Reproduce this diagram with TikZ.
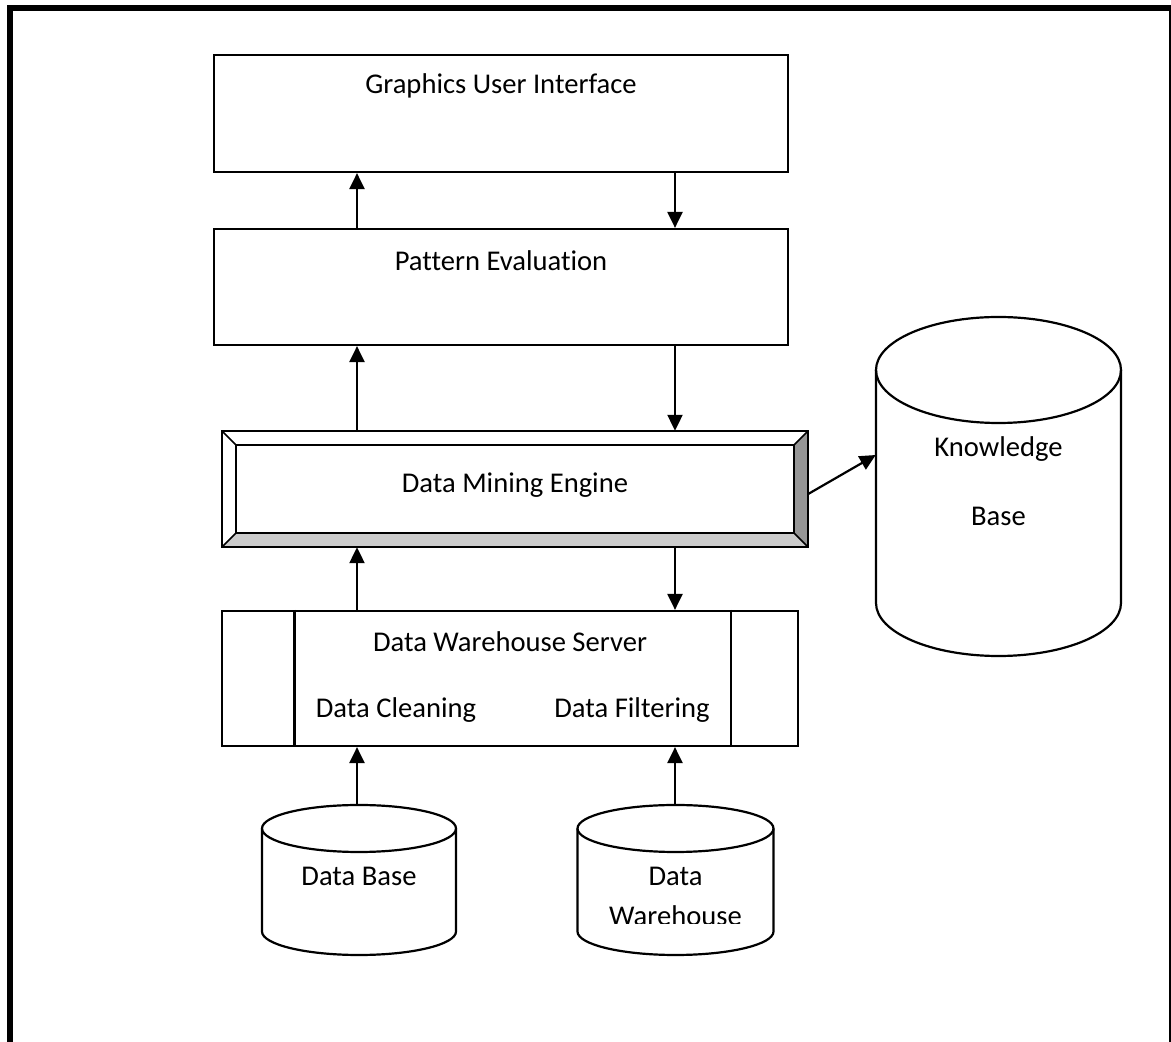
\documentclass[tikz,border=0pt]{standalone}
\usepackage{fontspec}
\setmainfont{Carlito}[Ligatures={NoCommon}]
\usetikzlibrary{arrows.meta,calc}
\definecolor{bevellight}{RGB}{204,204,204}
\definecolor{beveldark}{RGB}{150,150,150}

% vertical storage drum: centre x, top y, bottom y, x radius, y radius
\newcommand{\storagedrum}[5]{%
  \draw[line,fill=white] (#1-#4,#2-#5) -- (#1-#4,#3+#5)
    arc[start angle=180,end angle=360,x radius=#4,y radius=#5]
    -- (#1+#4,#2-#5)
    arc[start angle=0,end angle=180,x radius=#4,y radius=#5] -- cycle;
  \draw[line] (#1-#4,#2-#5)
    arc[start angle=180,end angle=360,x radius=#4,y radius=#5];
}

\begin{document}
\begin{tikzpicture}[x=1pt,y=1pt,
  line/.style={line width=2.2pt},
  box/.style={draw,line width=2.2pt,inner sep=0pt},
  lbl/.style={font=\fontsize{28.6}{34}\selectfont,inner sep=0pt,anchor=base},
  flow/.style={line width=2.2pt,-{Triangle[length=16pt,width=15pt]}},
  ghost/.style={inner sep=0pt},
  ]
\useasboundingbox (0,0) rectangle (1171,1042);

% page frame
\draw[line width=6pt] (10,0) -- (10,1034) -- (1171,1034);
\draw[line width=2pt] (1169.5,1034) -- (1169.5,0);

% arrow columns
\coordinate (cl) at (357,0);
\coordinate (cr) at (675,0);

% upper boxes
\node[box,minimum width=574pt,minimum height=117pt] (gui) at (501,928.5) {};
\node[lbl] (gui-t) at (501,948) {Graphics User Interface};

\node[box,minimum width=574pt,minimum height=116pt] (pe) at (501,755) {};
\node[lbl] (pe-t) at (501,771) {Pattern Evaluation};

% bevelled engine box
\node[ghost,minimum width=586pt,minimum height=116pt] (dme) at (515,553) {};
\fill[bevellight] (dme.south west) -- (dme.south east)
  -- ([shift={(-14,14)}]dme.south east) -- ([shift={(14,14)}]dme.south west) -- cycle;
\fill[beveldark] (dme.south east) -- (dme.north east)
  -- ([shift={(-14,-14)}]dme.north east) -- ([shift={(-14,14)}]dme.south east) -- cycle;
\draw[line width=1.6pt] ([shift={(14,14)}]dme.south west) rectangle ([shift={(-14,-14)}]dme.north east);
\draw[line width=1.6pt] (dme.south west) -- ([shift={(14,14)}]dme.south west)
  (dme.north west) -- ([shift={(14,-14)}]dme.north west)
  (dme.north east) -- ([shift={(-14,-14)}]dme.north east)
  (dme.south east) -- ([shift={(-14,14)}]dme.south east);
\draw[line] (dme.south west) rectangle (dme.north east);
\node[lbl] (dme-t) at (515,549.5) {Data Mining Engine};

% warehouse server box
\node[box,minimum width=576pt,minimum height=135pt] (dws) at (510,363.5) {};
\draw[line] (294.5,0 |- dws.north) -- (294.5,0 |- dws.south)
            (731,0 |- dws.north) -- (731,0 |- dws.south);
\node[lbl] (dws-t) at (510,390) {Data Warehouse Server};
\node[lbl] (dws-c) at (396,324) {Data Cleaning};
\node[lbl] (dws-f) at (632,324) {Data Filtering};

% storage drums
\storagedrum{359}{237}{87}{97}{23.5}
\node[ghost,minimum width=194pt,minimum height=150pt] (db) at (359,162) {};
\node[lbl] (db-t) at (359,156) {Data Base};

\storagedrum{675.5}{237}{87}{98}{23.5}
\node[ghost,minimum width=196pt,minimum height=150pt] (dw) at (675.5,162) {};
\node[lbl] (dw-t1) at (675.5,156) {Data};
\begin{scope}
  \clip (577,118.5) rectangle (774,150);
  \node[lbl] (dw-t2) at (675.5,116) {Warehouse};
\end{scope}

\storagedrum{998.5}{725}{386}{122.5}{53}
\node[ghost,minimum width=245pt,minimum height=339pt] (kb) at (998.5,555.5) {};
\node[lbl] (kb-t1) at (998.5,585) {Knowledge};
\node[lbl] (kb-t2) at (998.5,516) {Base};

% connectors
\draw[flow] (cl |- pe.north) -- (cl |- gui.south);
\draw[flow] (cr |- gui.south) -- (cr |- pe.north);
\draw[flow] (cl |- dme.north) -- (cl |- pe.south);
\draw[flow] (cr |- pe.south) -- (cr |- dme.north);
\draw[flow] (cl |- dws.north) -- (cl |- dme.south);
\draw[flow] (cr |- dme.south) -- (cr |- dws.north);
\draw[flow] (cl |- db.north) -- (cl |- dws.south);
\draw[flow] (cr |- dw.north) -- (cr |- dws.south);
\draw[flow] ([yshift=-5]dme.east) -- ([yshift=31.5]kb.west);
\end{tikzpicture}
\end{document}
